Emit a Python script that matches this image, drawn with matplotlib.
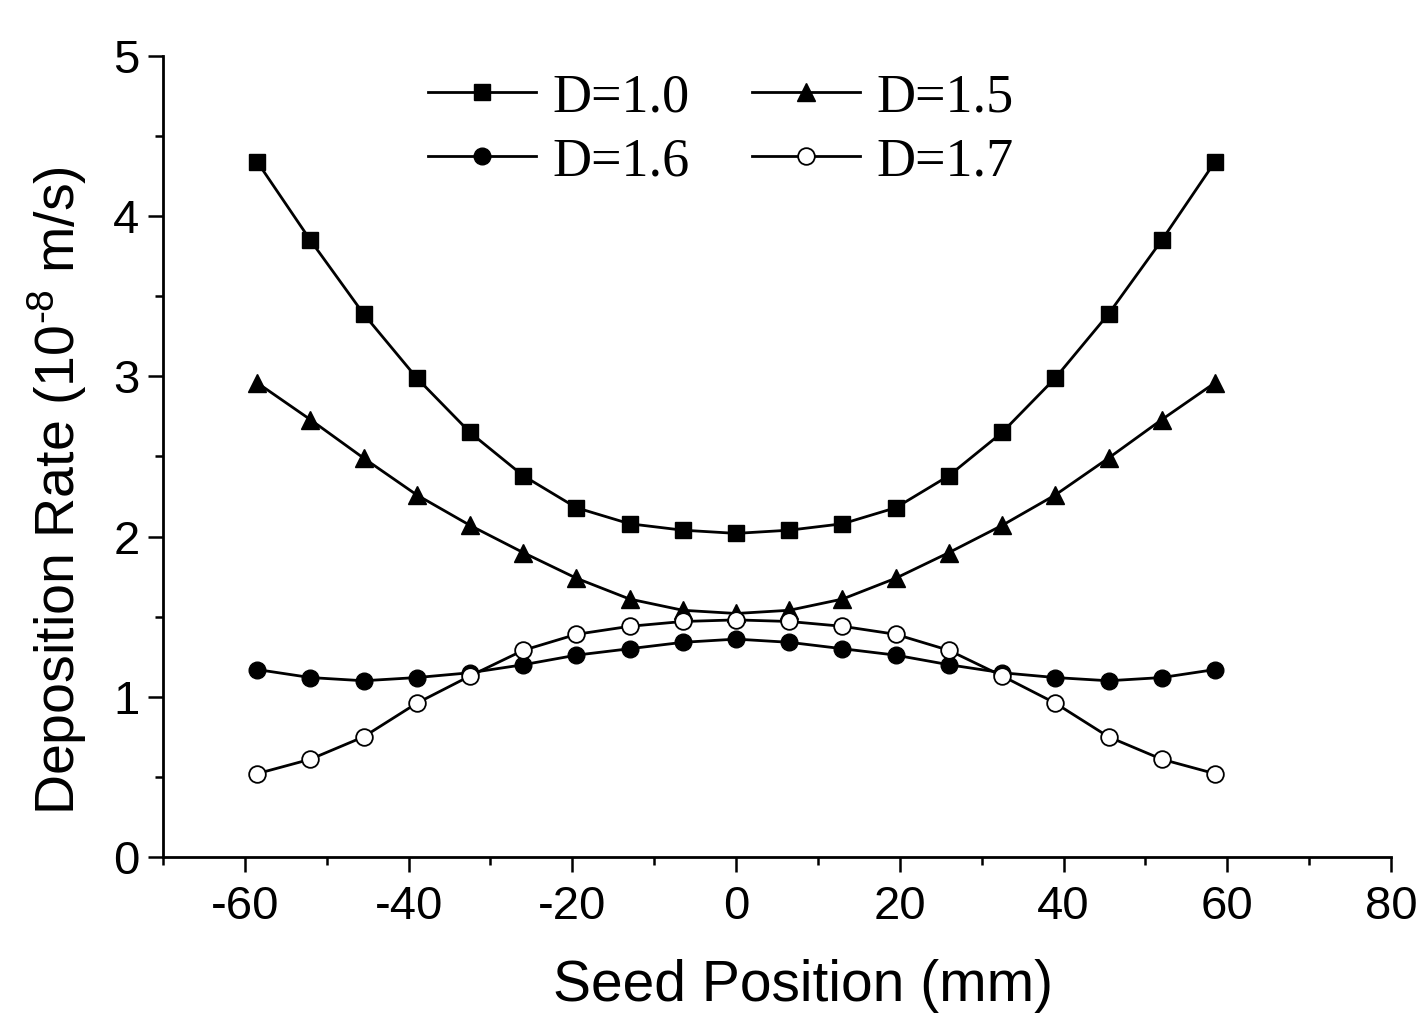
import numpy as np
import matplotlib
matplotlib.use("Agg")
import matplotlib.pyplot as plt
from matplotlib.ticker import MultipleLocator

plt.rcParams['axes.unicode_minus'] = False
plt.rcParams['mathtext.default'] = 'regular'
plt.rcParams['font.family'] = 'Liberation Sans'

# Seed positions (mm)
seed_pos = [-58.5, -52, -45.5, -39, -32.5, -26, -19.5, -13, -6.5, 0,
            6.5, 13, 19.5, 26, 32.5, 39, 45.5, 52, 58.5]

# Deposition rates (1e-8 m/s), symmetric about the center
half_10 = [4.34, 3.85, 3.39, 2.99, 2.65, 2.38, 2.18, 2.08, 2.04, 2.02]
half_15 = [2.96, 2.73, 2.49, 2.26, 2.07, 1.90, 1.74, 1.61, 1.54, 1.52]
half_16 = [1.17, 1.12, 1.10, 1.12, 1.15, 1.20, 1.26, 1.30, 1.34, 1.36]
half_17 = [0.52, 0.61, 0.75, 0.96, 1.13, 1.29, 1.39, 1.44, 1.47, 1.48]

rate_10 = half_10 + half_10[-2::-1]
rate_15 = half_15 + half_15[-2::-1]
rate_16 = half_16 + half_16[-2::-1]
rate_17 = half_17 + half_17[-2::-1]

fig = plt.figure(figsize=(14.24, 10.15), dpi=100)
ax = fig.add_axes([0.1145, 0.1557, 0.8623, 0.7891])

lw = 2
l10, = ax.plot(seed_pos, rate_10, color='black', lw=lw, marker='s', ms=11, label='D=1.0')
l15, = ax.plot(seed_pos, rate_15, color='black', lw=lw, marker='^', ms=13, label='D=1.5')
l16, = ax.plot(seed_pos, rate_16, color='black', lw=lw, marker='o', ms=12, label='D=1.6')
l17, = ax.plot(seed_pos, rate_17, color='black', lw=lw, marker='o', ms=12,
               markerfacecolor='white', markeredgewidth=1.3, label='D=1.7')

ax.set_xlim(-70, 80)
ax.set_ylim(0, 5)
ax.xaxis.set_major_locator(MultipleLocator(20))
ax.xaxis.set_minor_locator(MultipleLocator(10))
ax.yaxis.set_major_locator(MultipleLocator(1))
ax.yaxis.set_minor_locator(MultipleLocator(0.5))

for side in ['top', 'right']:
    ax.spines[side].set_visible(False)
for side in ['left', 'bottom']:
    ax.spines[side].set_linewidth(2)

ax.tick_params(which='major', direction='out', length=11, width=1.8,
               labelsize=34)
ax.tick_params(axis='x', which='major', pad=9)
ax.tick_params(axis='y', which='major', pad=6)
ax.tick_params(which='minor', direction='out', length=5.5, width=1.8)

ax.set_xlabel('Seed Position (mm)', fontsize=41)
ax.set_ylabel('Deposition Rate (10$^{\u20108}$ m/s)', fontsize=40)
ax.xaxis.set_label_coords(0.521, -0.128)
ax.yaxis.set_label_coords(-0.06, 0.457)

# order so that rows read D=1.0, D=1.5 / D=1.6, D=1.7
ax.legend([l10, l16, l15, l17], ['D=1.0', 'D=1.6', 'D=1.5', 'D=1.7'],
          ncol=2, loc='upper center', bbox_to_anchor=(0.454, 1.04),
          frameon=False, handlelength=2.0, columnspacing=1.15,
          handletextpad=0.3, labelspacing=0.25,
          prop={'family': 'Liberation Serif', 'size': 39})

fig.savefig('out.png', dpi=100)
